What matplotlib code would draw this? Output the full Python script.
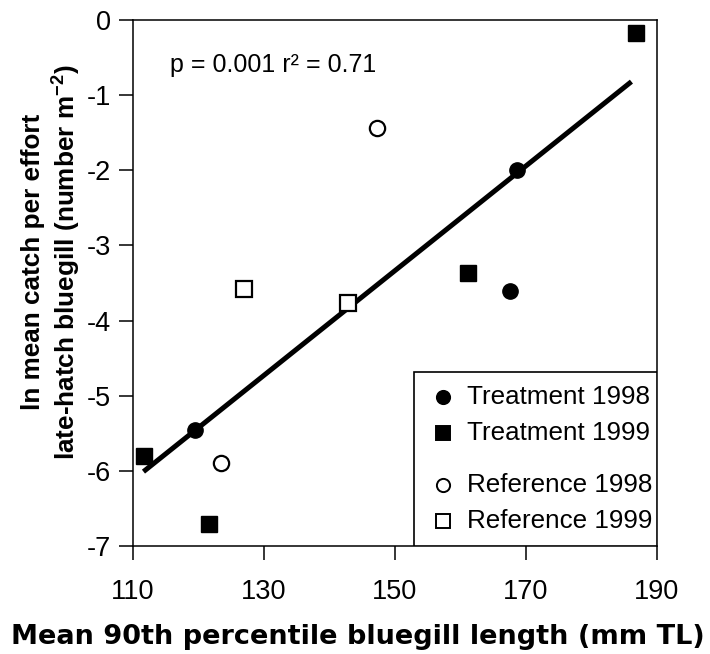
import matplotlib
matplotlib.use("Agg")
import matplotlib.pyplot as plt
from matplotlib.patches import Rectangle

plt.rcParams['font.family'] = ['Liberation Sans', 'DejaVu Sans']
plt.rcParams['mathtext.fontset'] = 'custom'
plt.rcParams['mathtext.rm'] = 'Liberation Sans'
plt.rcParams['mathtext.bf'] = 'Liberation Sans:bold'
plt.rcParams['axes.unicode_minus'] = False

# data
trt98_x = [119.5, 168.7, 167.6]
trt98_y = [-5.45, -2.00, -3.60]
trt99_x = [111.7, 121.6, 161.1, 186.8]
trt99_y = [-5.80, -6.71, -3.37, -0.17]
ref98_x = [123.4, 147.2]
ref98_y = [-5.89, -1.44]
ref99_x = [127.0, 142.8]
ref99_y = [-3.58, -3.77]

# regression line end points
fit_x = [111.6, 186.1]
fit_y = [-6.01, -0.82]

x_ticks = [110, 130, 150, 170, 190]
y_ticks = [-7, -6, -5, -4, -3, -2, -1, 0]

fig = plt.figure(figsize=(7.10, 6.54), dpi=100)
ax = fig.add_axes([0.1873, 0.1651, 0.738, 0.8043])

ax.plot(fit_x, fit_y, color='black', lw=3.6, solid_capstyle='butt', zorder=2)
ax.plot(trt98_x, trt98_y, 'o', ms=11, color='black', zorder=3)
ax.plot(trt99_x, trt99_y, 's', ms=11, color='black', zorder=3)
ax.plot(ref98_x, ref98_y, 'o', ms=11, mfc='white', mec='black', mew=1.6, zorder=3)
ax.plot(ref99_x, ref99_y, 's', ms=11, mfc='white', mec='black', mew=1.6, zorder=3)

ax.set_xlim(110, 190)
ax.set_ylim(-7, 0)
ax.set_xticks(x_ticks)
ax.set_yticks(y_ticks)
ax.tick_params(direction='out', length=10, width=1.1, labelsize=19.5, pad=6)
ax.tick_params(axis='x', pad=14)
for s in ax.spines.values():
    s.set_linewidth(1.1)

ax.text(0.07, 0.915, 'p = 0.001 r² = 0.71', transform=ax.transAxes,
        fontsize=18, va='center', ha='left')

# legend box (gap between treatment and reference groups)
ax.add_patch(Rectangle((0.537, 0.0), 0.463, 0.331, transform=ax.transAxes,
                       fill=True, fc='white', ec='black', lw=1.2, zorder=4))
leg_rows = [(0.283, 'o', 'black', 'Treatment 1998'),
            (0.215, 's', 'black', 'Treatment 1999'),
            (0.116, 'o', 'white', 'Reference 1998'),
            (0.048, 's', 'white', 'Reference 1999')]
for yy, mk, fc, lab in leg_rows:
    ax.plot([0.591], [yy], mk, ms=9.5, mfc=fc, mec='black', mew=1.4,
            transform=ax.transAxes, zorder=5, clip_on=False)
    ax.text(0.638, yy, lab, transform=ax.transAxes, fontsize=18.7,
            va='center', ha='left', zorder=5)

fig.text(358 / 710, 1 - 637 / 654, 'Mean 90th percentile bluegill length (mm TL)',
         family='DejaVu Sans', fontsize=19.5, fontweight='bold',
         ha='center', va='center')
fig.text(52 / 710, 1 - 262 / 654,
         'ln mean catch per effort\nlate-hatch bluegill (number m$\\mathbf{^{-2}}$)',
         fontsize=18.8, fontweight='bold', ha='center', va='center',
         rotation=90, multialignment='center', linespacing=1.2)

fig.savefig('out.png', dpi=100)
